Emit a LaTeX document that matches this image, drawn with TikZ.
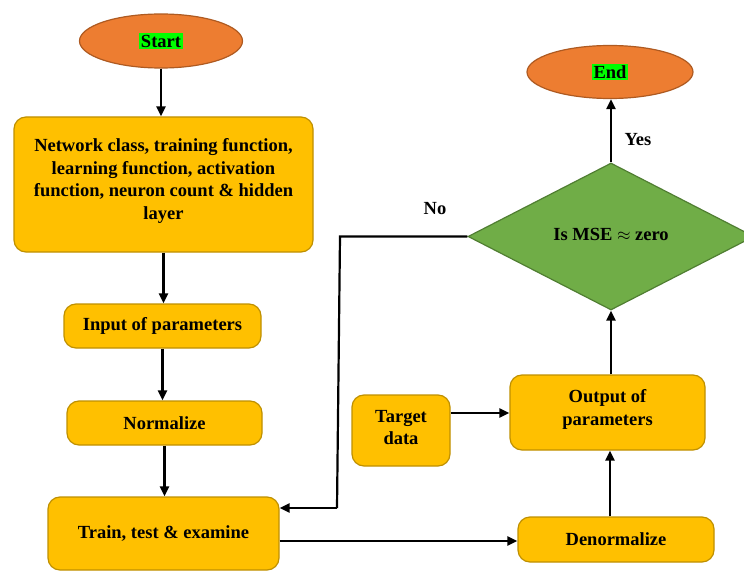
\documentclass[tikz,border=0pt]{standalone}
\usepackage{fontspec}
\setmainfont{Liberation Serif}
\usetikzlibrary{shapes.geometric,arrows.meta}
\definecolor{orfill}{HTML}{ED7D31}
\definecolor{ordraw}{HTML}{AE5A21}
\definecolor{yefill}{HTML}{FFC000}
\definecolor{yedraw}{HTML}{BF9000}
\definecolor{grfill}{HTML}{70AD47}
\definecolor{grdraw}{HTML}{507E32}
\definecolor{hilite}{HTML}{00FF00}
\newcommand{\hl}[1]{{\setlength{\fboxsep}{1.5pt}\colorbox{hilite}{#1}}}
\tikzset{
  x=1pt, y=-1pt,
  every node/.style={font=\fontsize{18.5}{22.5}\selectfont\bfseries, align=center},
  oval/.style={ellipse, fill=orfill, draw=ordraw, line width=1.2pt, inner sep=0pt},
  ybox/.style={rectangle, rounded corners=12pt, fill=yefill, draw=yedraw, line width=1.2pt, inner sep=0pt},
  decide/.style={diamond, fill=grfill, draw=grdraw, line width=1.2pt, inner sep=0pt},
  conn/.style={line width=2.2pt, -{Triangle[length=10pt,width=9pt]}},
  plain/.style={line width=2.2pt},
}
\begin{document}
\begin{tikzpicture}
\useasboundingbox (0,0) rectangle (744,572);
\node[oval, minimum width=163pt, minimum height=54pt] (start) at (161,41) {\hl{Start}};
\node[oval, minimum width=166pt, minimum height=53pt] (end) at (610,72) {\hl{End}};
\node[ybox, minimum width=299pt, minimum height=135pt,
  label={[name=netlbl, yshift=3.5pt]center:Network class, training function,\\learning function, activation\\function, neuron count \& hidden\\layer}] (net) at (163.5,184.5) {};
\node[ybox, minimum width=197pt, minimum height=44pt] (inp) at (162.5,326) {Input of parameters};
\node[ybox, minimum width=195pt, minimum height=44pt] (norm) at (164.5,423) {Normalize};
\node[ybox, minimum width=231pt, minimum height=73pt] (train) at (163.5,533.5) {Train, test \& examine};
\node[ybox, minimum width=196pt, minimum height=45pt] (denorm) at (616,539.5) {Denormalize};
\node[ybox, minimum width=98pt, minimum height=71pt,
  label={[name=tgtlbl, yshift=3pt]center:Target\\data}] (target) at (401,430.5) {};
\node[ybox, minimum width=195pt, minimum height=75pt,
  label={[name=outlbl, yshift=3pt]center:Output of\\parameters}] (outp) at (607.5,412.5) {};
\node[decide, minimum width=286pt, minimum height=147pt,
  label={[name=mselbl, yshift=2pt]center:Is MSE $\approx$ zero}] (mse) at (611,236.5) {};
\coordinate (c1) at (340,236.5);
\coordinate (c2) at (337,508);
\node (yes) at (638,140) {Yes};
\node (no) at (435,209) {No};
\draw[conn] (start.south) -- (net.north -| start.south);
\draw[conn] (net.south) -- (inp.north -| net.south);
\draw[conn] (inp.south) -- (norm.north -| inp.south);
\draw[conn] (norm.south) -- (train.north -| norm.south);
\draw[plain] (mse.west) -- (c1) -- (c2);
\draw[conn] (c2) -- (c2 -| train.east);
\draw[conn] (train.east |- 0,541) -- (denorm.west |- 0,541);
\draw[conn] (denorm.north -| 610,0) -- (outp.south -| 610,0);
\draw[conn] (target.east |- 0,413) -- (outp.west |- 0,413);
\draw[conn] (outp.north -| mse.south) -- (mse.south);
\draw[conn] (mse.north) -- (end.south -| mse.north);
\end{tikzpicture}
\end{document}
